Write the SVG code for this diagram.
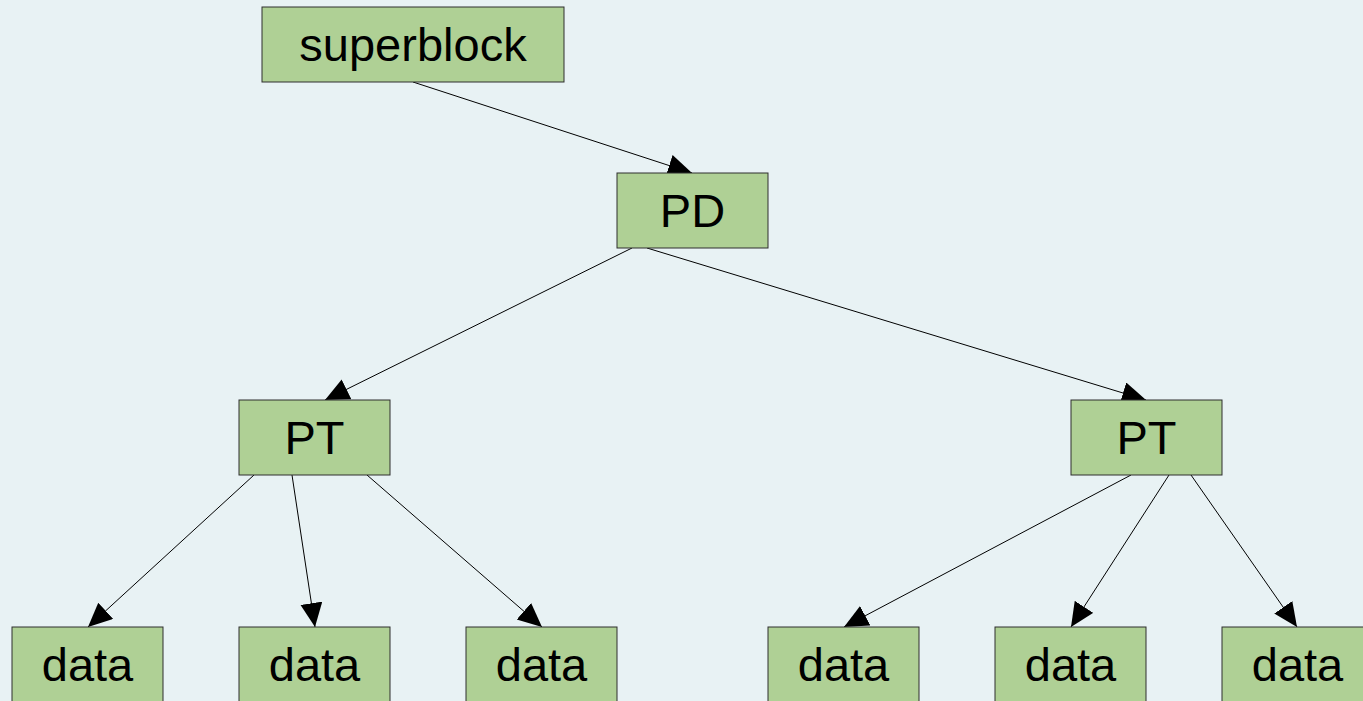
<svg xmlns="http://www.w3.org/2000/svg" width="1363" height="701" viewBox="0 0 1363 701">
  <style>
    .box { fill: #afd095; stroke: #2e2e2e; stroke-width: 1; }
    .lbl { font-family: "Liberation Sans", Arial, sans-serif; font-size: 47px; fill: #000000; text-anchor: middle; }
    .edge { stroke: #000000; stroke-width: 1; fill: none; marker-end: url(#arrow); }
  </style>
  <defs>
    <marker id="arrow" markerUnits="userSpaceOnUse" markerWidth="26" markerHeight="24" refX="24" refY="11" orient="auto">
      <path d="M0,0 L24,11 L0,22 Z" fill="#000000"/>
    </marker>
  </defs>
  <rect width="1363" height="701" fill="#e8f2f4"/>

  <g id="connectors">
    <line class="edge" x1="413" y1="82" x2="692" y2="173"/>
    <line class="edge" x1="632" y1="248" x2="325" y2="400"/>
    <line class="edge" x1="647" y1="248" x2="1146" y2="400"/>
    <line class="edge" x1="254" y1="475" x2="88" y2="627"/>
    <line class="edge" x1="292" y1="475" x2="315" y2="627"/>
    <line class="edge" x1="367" y1="475" x2="542" y2="627"/>
    <line class="edge" x1="1131" y1="475" x2="844" y2="627"/>
    <line class="edge" x1="1169" y1="475" x2="1071" y2="627"/>
    <line class="edge" x1="1191" y1="475" x2="1297" y2="627"/>
  </g>

  <g id="superblock">
    <rect class="box" x="262" y="7" width="302" height="75"/>
    <text class="lbl" x="413" y="61">superblock</text>
  </g>
  <g id="pd">
    <rect class="box" x="617" y="173" width="151" height="75"/>
    <text class="lbl" x="692.5" y="227">PD</text>
  </g>
  <g id="pt-left">
    <rect class="box" x="239" y="400" width="151" height="75"/>
    <text class="lbl" x="314.5" y="454">PT</text>
  </g>
  <g id="pt-right">
    <rect class="box" x="1071" y="400" width="151" height="75"/>
    <text class="lbl" x="1146.5" y="454">PT</text>
  </g>
  <g id="data-1">
    <rect class="box" x="12" y="627" width="151" height="75"/>
    <text class="lbl" x="87.5" y="681">data</text>
  </g>
  <g id="data-2">
    <rect class="box" x="239" y="627" width="151" height="75"/>
    <text class="lbl" x="314.5" y="681">data</text>
  </g>
  <g id="data-3">
    <rect class="box" x="466" y="627" width="151" height="75"/>
    <text class="lbl" x="541.5" y="681">data</text>
  </g>
  <g id="data-4">
    <rect class="box" x="768" y="627" width="151" height="75"/>
    <text class="lbl" x="843.5" y="681">data</text>
  </g>
  <g id="data-5">
    <rect class="box" x="995" y="627" width="151" height="75"/>
    <text class="lbl" x="1070.5" y="681">data</text>
  </g>
  <g id="data-6">
    <rect class="box" x="1222" y="627" width="151" height="75"/>
    <text class="lbl" x="1297.5" y="681">data</text>
  </g>
</svg>
